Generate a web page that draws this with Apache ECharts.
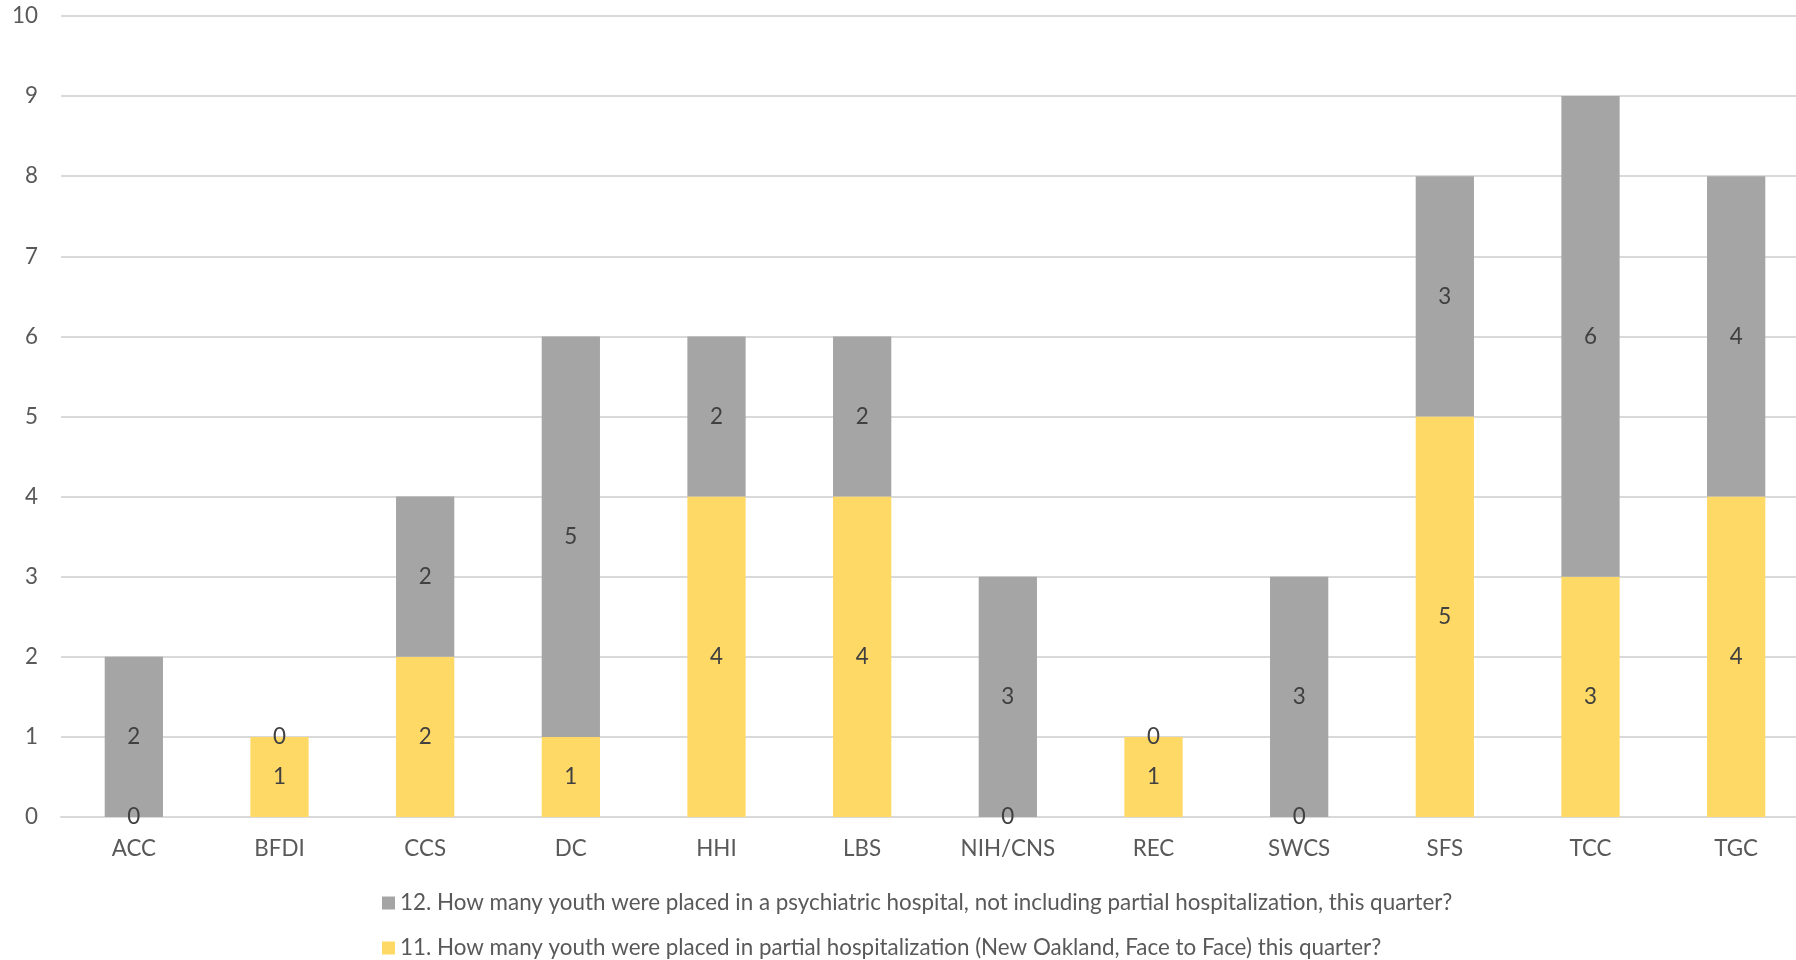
<!DOCTYPE html>
<html>
<head>
<meta charset="utf-8">
<script src="https://cdn.jsdelivr.net/npm/echarts@6/dist/echarts.min.js"></script>
<style>html,body{margin:0;padding:0;background:#fff;overflow:hidden;width:1796px;height:960px;}#c{width:1809px;height:960px;}</style>
</head>
<body>
<div id="c"></div>
<script>
const categories = ['ACC','BFDI','CCS','DC','HHI','LBS','NIH/CNS','REC','SWCS','SFS','TCC','TGC'];
const partialHosp = [0,1,2,1,4,4,0,1,0,5,3,4];
const psychHosp = [2,0,2,5,2,2,3,0,3,3,6,4];
const yTicks = [0,1,2,3,4,5,6,7,8,9,10];
const name11 = '11. How many youth were placed in partial hospitalization (New Oakland, Face to Face) this quarter?';
const name12 = '12. How many youth were placed in a psychiatric hospital, not including partial hospitalization, this quarter?';

const FONT = 'Lato';
const FS = 22.4;
const chart = echarts.init(document.getElementById('c'));
const lbl = {show:true, position:'inside', color:'#404040', fontSize:FS, fontFamily:FONT};
chart.setOption({
  animation:false,
  grid:{left:61, right:0, top:16, bottom:143, containLabel:false},
  legend:{
    orient:'vertical', left:382, top:892, padding:0, itemWidth:13, itemHeight:13, itemGap:23,
    icon:'rect', data:[name12, name11],
    textStyle:{color:'#595959', fontSize:FS, fontFamily:FONT}
  },
  xAxis:{type:'category', data:categories,
    axisLine:{lineStyle:{color:'#D9D9D9', width:2}}, axisTick:{show:false},
    axisLabel:{color:'#595959', fontSize:FS, fontFamily:FONT, margin:21}},
  yAxis:{type:'value', min:yTicks[0], max:yTicks[yTicks.length-1], interval:1,
    axisLine:{show:false}, axisTick:{show:false},
    splitLine:{lineStyle:{color:'#D9D9D9', width:2}},
    axisLabel:{color:'#595959', fontSize:FS, fontFamily:FONT, margin:23}},
  series:[
    {name:name11, type:'bar', stack:'s', data:partialHosp, barWidth:'40%',
      itemStyle:{color:'#FFD966'}, label:lbl},
    {name:name12, type:'bar', stack:'s', data:psychHosp, barWidth:'40%',
      itemStyle:{color:'#A5A5A5'}, label:lbl}
  ]
});
</script>
</body>
</html>
